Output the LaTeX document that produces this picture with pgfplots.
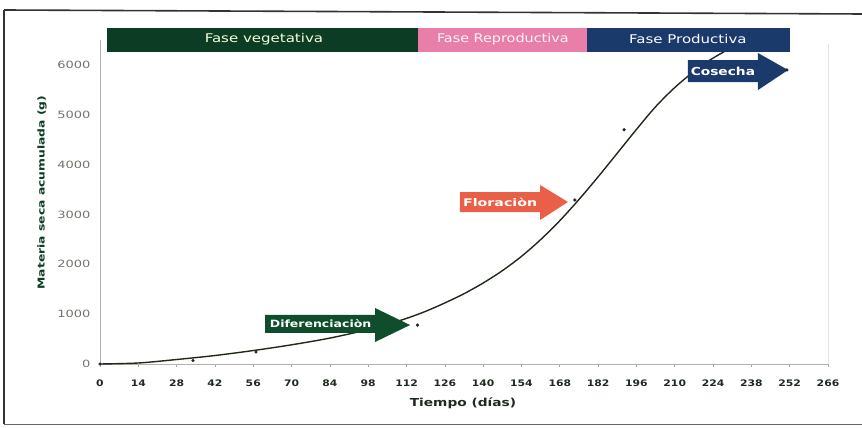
\documentclass[border=0pt]{standalone}
\usepackage{pgfplots}
\pgfplotsset{compat=1.18}
\usepackage{pgfplotstable}
\usepackage{fontspec}
\setmainfont{DejaVu Sans}
\usepackage{graphicx}

\definecolor{faseVeg}{HTML}{0C3D24}
\definecolor{faseRep}{HTML}{E97FA9}
\definecolor{faseProd}{HTML}{1B3A6C}
\definecolor{flechaDif}{HTML}{0F4D2C}
\definecolor{flechaFlor}{HTML}{EA5F47}
\definecolor{curva}{HTML}{1E2A18}
\definecolor{tickY}{HTML}{72726A}
\definecolor{tickX}{HTML}{1F2A1F}

% curva de tendencia
\pgfplotstableread{
x y
0 0
14 20
28 90
42 170
56 270
70 385
84 520
98 690
105 795
112 915
119 1057
126 1225
133 1410
140 1625
147 1872
154 2159
161 2495
168 2875
175 3300
182 3755
189 4229
196 4705
203 5161
210 5546
217 5868
224 6137
232 6385
}\curvatabla

\begin{document}
\begin{tikzpicture}
\useasboundingbox (-100pt,-64pt) rectangle (762pt,364pt);
\begin{axis}[
  at={(0,0)}, anchor=south west,
  scale only axis,
  width=728pt, height=324pt,
  xmin=0, xmax=266, ymin=0, ymax=6500,
  clip=false,
  axis x line*=bottom, axis y line*=left,
  axis line style={draw=black!30, line width=0.8pt, -},
  xtick={0,14,...,266},
  ytick={0,1000,...,6000},
  tick align=outside,
  major tick length=3pt,
  xtick style={draw=black!35, line width=0.6pt},
  ytick style={draw=none},
  /pgf/number format/assume math mode=true,
  /pgf/number format/1000 sep={},
  xticklabel={\scalebox{1.2}[1]{\fontsize{9}{10}\selectfont\bfseries\pgfmathprintnumber{\tick}}},
  yticklabel={\scalebox{1.3}[1]{\fontsize{10}{11}\selectfont\pgfmathprintnumber{\tick}}},
  xticklabel style={text=tickX, yshift=-9pt},
  yticklabel style={text=tickY, xshift=-3pt},
  xlabel={\scalebox{1.25}[1]{\fontsize{11}{12}\selectfont\bfseries Tiempo (días)}},
  xlabel style={at={(axis description cs:0.4986,-0.12)}, anchor=center, text=tickX},
  ylabel={\scalebox{1.3}[1]{\fontsize{9.5}{10}\selectfont\bfseries Materia seca acumulada (g)}},
  ylabel style={at={(axis description cs:-0.0797,0.529)}, anchor=center, text=faseVeg},
]
% borde derecho tenue
\draw[black!10, line width=0.6pt] (axis cs:266,0) -- (axis cs:266,6420);

% curva
\addplot[curva, line width=1.4pt, smooth, no marks] table[x=x, y=y] {\curvatabla};

% barra de fases
\fill[faseVeg] (axis cs:2.6,6260) rectangle (axis cs:116.2,6740);
\fill[faseRep] (axis cs:116.2,6260) rectangle (axis cs:177.9,6740);
\fill[faseProd] (axis cs:177.9,6260) rectangle (axis cs:252.1,6740);
\node[text=green!5!white!90!yellow] at (axis cs:59.9,6520) {\scalebox{1.25}[1]{\fontsize{12}{13}\selectfont Fase vegetativa}};
\node[text=white!92!faseRep] at (axis cs:147.2,6520) {\scalebox{1.2}[1]{\fontsize{12}{13}\selectfont Fase Reproductiva}};
\node[text=white] at (axis cs:214.8,6520) {\scalebox{1.25}[1]{\fontsize{12}{13}\selectfont Fase Productiva}};

% flechas
\fill[flechaDif] (axis cs:60.3,622) -- (axis cs:100.5,622) -- (axis cs:100.5,441) -- (axis cs:113.3,782)
  -- (axis cs:100.5,1123) -- (axis cs:100.5,983) -- (axis cs:60.3,983) -- cycle;
\node[text=white] at (axis cs:80.6,802) {\scalebox{1.25}[1]{\fontsize{10}{11}\selectfont\bfseries Diferenciaciòn}};

\fill[flechaFlor] (axis cs:131.5,3049) -- (axis cs:160.8,3049) -- (axis cs:160.8,2889) -- (axis cs:171.0,3250)
  -- (axis cs:160.8,3591) -- (axis cs:160.8,3450) -- (axis cs:131.5,3450) -- cycle;
\node[text=white] at (axis cs:146.2,3250) {\scalebox{1.35}[1]{\fontsize{10.5}{11}\selectfont\bfseries Floraciòn}};

\fill[faseProd] (axis cs:214.8,5657) -- (axis cs:240.4,5657) -- (axis cs:240.4,5496) -- (axis cs:251.4,5898)
  -- (axis cs:240.4,6239) -- (axis cs:240.4,6098) -- (axis cs:214.8,6098) -- cycle;
\node[text=white] at (axis cs:227.6,5878) {\scalebox{1.25}[1]{\fontsize{11}{12}\selectfont\bfseries Cosecha}};

% datos observados
\addplot[only marks, mark=*, mark size=1.4pt, color=black!85] coordinates {
  (0,0) (34,70) (57,240) (116,780) (173.5,3290) (191.5,4700) (251,5900)
};
\end{axis}
% marco exterior
\draw[black!80, line width=1.6pt] (-96pt,354pt) -- (762pt,350pt);
\draw[black!80, line width=1.4pt] (-96pt,354pt) -- (-96pt,-60pt);
\draw[black!60, line width=0.9pt] (-96pt,-60pt) -- (762pt,-60pt);
\end{tikzpicture}
\end{document}
